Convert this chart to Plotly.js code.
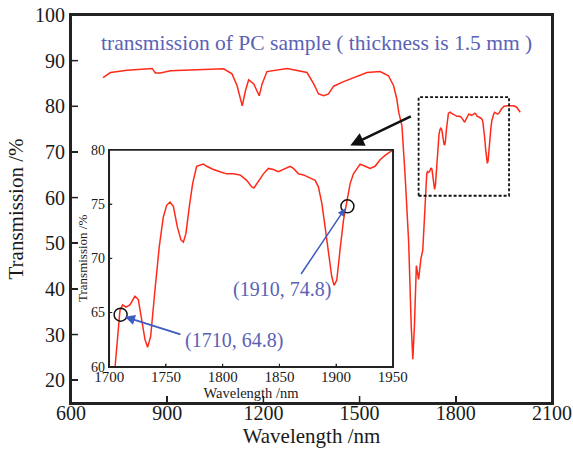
<!DOCTYPE html>
<html>
<head>
<meta charset="utf-8">
<script src="https://cdn.plot.ly/plotly-3.0.1.min.js"></script>
<style>html,body{margin:0;padding:0;background:#fff;}#chart{width:573px;height:451px;}</style>
</head>
<body>
<div id="chart"></div>
<script>
// Spectrum: wavelength (nm) and transmission (%)
var wavelength = [700,723,775,853,863,879,910,983,1076,1102,1118,1134,1144,1154,1170,1187,1196,1211,1274,1336,1357,1372,1388,1403,1419,1450,1481,1523,1564,1590,1606,1616,1622,1632,1642,1653,1661,1666,1671,1677,1684,1691,1697,1701,
  1705,1709.4,1711.8,1714.7,1718.2,1722.6,1725.6,1728.5,1731.5,1733.8,1736.5,1740.3,1744.1,1747.6,1750.6,1753.5,1756.5,1760,1763.2,1765.3,1767.6,1770.6,1773.5,1777,1780,1782.9,1785.9,1791.8,1797.6,1803.5,1809.4,1815.3,1821.2,1825.6,1827.6,1831.5,1835.9,1840.3,1844.7,1849.1,1853.5,1859.4,1862.4,1866.8,1871.2,1875.6,1881.5,1884.4,1887.4,1890.3,1893.2,1896.2,1898.2,1900.6,1903.5,1906.5,1909.4,1912.4,1915.3,1918.2,1921.2,1925.6,1930,1934.4,1938.8,1943.2,1947.6,1950,
  1964,1980,1990,2001];
var transmission = [86.3,87.4,87.9,88.3,87.3,87.3,87.8,88.0,88.2,87.1,84.5,80.1,83.4,85.8,84.9,82.3,84.9,87.6,88.3,87.4,84.9,82.7,82.3,82.7,84.4,85.4,86.3,87.4,87.6,86.7,84.5,81.6,78.7,75.7,64.8,50.2,31.9,24.6,31.9,45.1,42.1,46.5,48.5,55,
  60,65.2,65.7,65.5,65.7,66.5,66.2,64.3,62.5,61.8,62.8,67.1,71.1,73.8,74.9,75.2,74.8,72.9,71.7,71.5,72.3,74.8,76.9,78.5,78.6,78.7,78.5,78.2,78.0,77.8,77.8,77.7,77.2,76.6,76.5,77.1,77.8,78.3,78.2,78.0,78.2,78.5,78.3,77.8,77.7,77.5,77.2,76.6,75.1,72.9,70.5,68.3,67.5,68.0,70.8,73.5,75.2,76.9,77.8,78.3,78.7,78.5,78.3,78.5,79.1,79.5,79.8,80,
  80.1,80.1,79.8,78.7];
// Marked points in the inset
var markX = [1710, 1910];
var markY = [64.8, 74.8];
var markLabels = ['(1710, 64.8)', '(1910, 74.8)'];
var mainTicks = [600, 900, 1200, 1500, 1800, 2100];
var mainYTicks = [20, 30, 40, 50, 60, 70, 80, 90, 100];
var insetXTicks = [1700, 1750, 1800, 1850, 1900, 1950];
var insetYTicks = [60, 65, 70, 75, 80];

var serif = 'Liberation Serif, Times New Roman, serif';
var lineColor = '#ff2a1a';
var ink = '#1a1a1a';

var traces = [
  {x: wavelength, y: transmission, type: 'scatter', mode: 'lines',
   line: {color: lineColor, width: 1.5}, xaxis: 'x', yaxis: 'y', hoverinfo: 'skip'},
  {x: wavelength, y: transmission, type: 'scatter', mode: 'lines',
   line: {color: lineColor, width: 1.5}, xaxis: 'x2', yaxis: 'y2', hoverinfo: 'skip'},
  {x: markX, y: markY, type: 'scatter', mode: 'markers',
   marker: {symbol: 'circle-open', size: 13, color: '#111', line: {width: 1.5}},
   xaxis: 'x2', yaxis: 'y2', hoverinfo: 'skip'}
];

// frame and tick marks drawn as shapes on the axes' own scales (backup for axis lines)
var shapes = [
  {type: 'rect', xref: 'x domain', yref: 'y domain', x0: 0, x1: 1, y0: 0, y1: 1,
   line: {color: '#222', width: 2}, fillcolor: 'rgba(0,0,0,0)', layer: 'above'},
  {type: 'rect', xref: 'x2 domain', yref: 'y2 domain', x0: 0, x1: 1, y0: 0, y1: 1,
   line: {color: '#222', width: 1.5}, fillcolor: 'rgba(0,0,0,0)', layer: 'above'},
  {type: 'rect', xref: 'x', yref: 'y', x0: 1684, x1: 1966, y0: 60.4, y1: 82,
   line: {color: '#111', width: 1.8, dash: '3px,2px'}, fillcolor: 'rgba(0,0,0,0)'}
];
mainTicks.slice(1, -1).forEach(function (v) {
  shapes.push({type: 'line', xref: 'x', yref: 'y domain', x0: v, x1: v, ysizemode: 'pixel', yanchor: 0, y0: 0, y1: 7,
    line: {color: '#222', width: 1.5}, layer: 'above'});
});
mainYTicks.slice(0, -1).forEach(function (v) {
  shapes.push({type: 'line', xref: 'x domain', yref: 'y', y0: v, y1: v, xsizemode: 'pixel', xanchor: 0, x0: 0, x1: 7,
    line: {color: '#222', width: 1.5}, layer: 'above'});
});
insetXTicks.slice(1, -1).forEach(function (v) {
  shapes.push({type: 'line', xref: 'x2', yref: 'y2 domain', x0: v, x1: v, ysizemode: 'pixel', yanchor: 0, y0: 0, y1: 3,
    line: {color: '#222', width: 1}, layer: 'above'});
});
insetYTicks.slice(1, -1).forEach(function (v) {
  shapes.push({type: 'line', xref: 'x2 domain', yref: 'y2', y0: v, y1: v, xsizemode: 'pixel', xanchor: 0, x0: 0, x1: 3,
    line: {color: '#222', width: 1}, layer: 'above'});
});

var layout = {
  width: 573, height: 451,
  margin: {l: 71, r: 21, t: 15, b: 48},
  paper_bgcolor: '#fff', plot_bgcolor: 'rgba(0,0,0,0)',
  showlegend: false,
  font: {family: serif, color: ink},
  xaxis: {
    range: [600, 2100], tickvals: mainTicks, ticktext: mainTicks.map(String),
    ticks: 'inside', ticklen: 7, tickwidth: 1.5, tickcolor: '#222',
    showline: true, mirror: true, linecolor: '#222', linewidth: 2,
    showgrid: false, zeroline: false, ticklabelstandoff: -9,
    tickfont: {family: serif, size: 20, color: ink},
    title: {text: 'Wavelength /nm', font: {family: serif, size: 21, color: ink}, standoff: 4}
  },
  yaxis: {
    range: [15, 100], tickvals: mainYTicks, ticktext: mainYTicks.map(String),
    ticks: 'inside', ticklen: 7, tickwidth: 1.5, tickcolor: '#222',
    showline: true, mirror: true, linecolor: '#222', linewidth: 2,
    showgrid: false, zeroline: false,
    tickfont: {family: serif, size: 20, color: ink},
    title: {text: 'Transmission /%', font: {family: serif, size: 21, color: ink}, standoff: 6}
  },
  xaxis2: {
    domain: [0.0796, 0.669], anchor: 'y2',
    range: [1700, 1950], tickvals: insetXTicks, ticktext: insetXTicks.map(String),
    ticks: 'inside', ticklen: 3, tickwidth: 1, tickcolor: '#222',
    showline: true, mirror: true, linecolor: '#222', linewidth: 1.5,
    showgrid: false, zeroline: false, ticklabelstandoff: -4,
    tickfont: {family: serif, size: 15, color: ink},
    title: {text: 'Wavelength /nm', font: {family: serif, size: 14.5, color: ink}, standoff: 0}
  },
  yaxis2: {
    domain: [0.0936, 0.652], anchor: 'x2',
    range: [60, 80], tickvals: insetYTicks, ticktext: insetYTicks.map(String),
    ticks: 'inside', ticklen: 3, tickwidth: 1, tickcolor: '#222',
    showline: true, mirror: true, linecolor: '#222', linewidth: 1.5,
    showgrid: false, zeroline: false,
    tickfont: {family: serif, size: 14, color: ink},
    title: {text: 'Transmission /%', font: {family: serif, size: 13, color: ink}, standoff: 0}
  },
  shapes: shapes,
  annotations: [
    {xref: 'paper', yref: 'paper', x: 0.511, y: 0.929, xanchor: 'center', yanchor: 'middle',
     text: 'transmission of PC sample ( thickness is 1.5 mm )', showarrow: false,
     font: {family: serif, size: 21.5, color: '#5a62b6'}},
    // black arrow from dashed box to inset
    {xref: 'x', yref: 'y', x: 1471, y: 71.4, ax: 62, ay: -30, text: '', showarrow: true,
     arrowhead: 2, arrowsize: 1.1, arrowwidth: 2.5, arrowcolor: '#111'},
    // blue arrows to the marked points
    {xref: 'x2', yref: 'y2', x: 1713.8, y: 64.6, ax: 57, ay: 18, text: '', showarrow: true,
     arrowhead: 2, arrowsize: 1, arrowwidth: 2, arrowcolor: '#3d5cc4'},
    {xref: 'x2', yref: 'y2', x: 1907.9, y: 74.6, ax: -45, ay: 67, text: '', showarrow: true,
     arrowhead: 2, arrowsize: 1, arrowwidth: 1.5, arrowcolor: '#3d5cc4'},
    {xref: 'x2', yref: 'y2', x: 1810, y: 62.4, text: markLabels[0], showarrow: false,
     xanchor: 'center', yanchor: 'middle', font: {family: serif, size: 20, color: '#5a62b6'}},
    {xref: 'x2', yref: 'y2', x: 1852, y: 67.1, text: markLabels[1], showarrow: false,
     xanchor: 'center', yanchor: 'middle', font: {family: serif, size: 20, color: '#5a62b6'}}
  ]
};

Plotly.newPlot('chart', traces, layout, {staticPlot: true, displayModeBar: false});
</script>
</body>
</html>
